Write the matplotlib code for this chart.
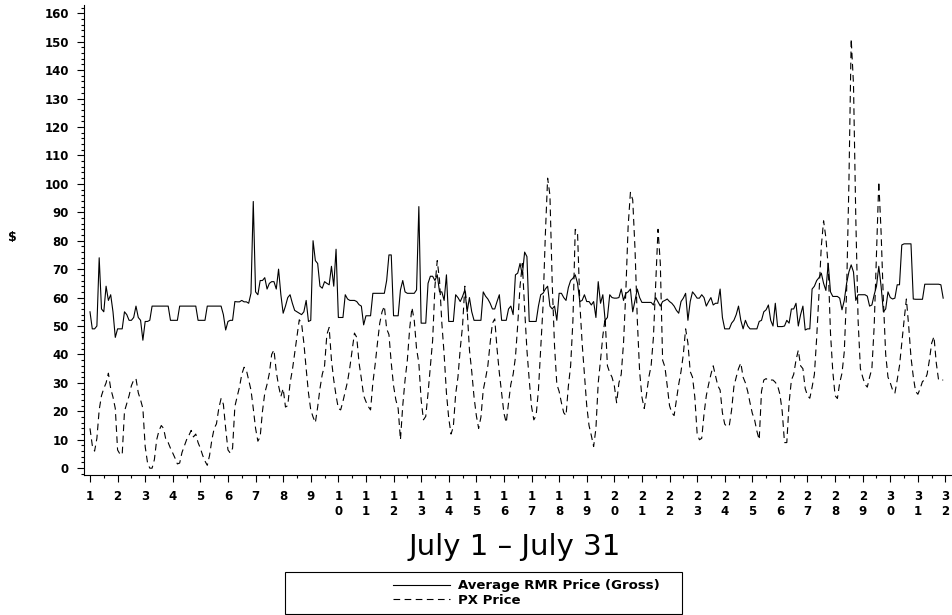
import numpy as np
import matplotlib
matplotlib.use('Agg')
import matplotlib.pyplot as plt
from matplotlib.ticker import MultipleLocator
from matplotlib.patches import Rectangle
from matplotlib.lines import Line2D

# hourly prices sampled every 2 hours, 12 values per day, July 1 - July 31
rmr_price = [
    55, 49, 49, 50, 74, 56, 55, 64, 59, 61, 55, 46,          # 1
    49, 49, 49, 55, 54, 52, 52, 53, 57, 53, 52, 45,          # 2
    51.6, 51.6, 52, 57, 57, 57, 57, 57, 57, 57, 57, 52,      # 3
    52, 52, 52, 57, 57, 57, 57, 57, 57, 57, 57, 52,          # 4
    52, 52, 52, 57, 57, 57, 57, 57, 57, 57, 54, 48.6,        # 5
    51.6, 52, 52, 58.6, 58.5, 58.5, 59, 58.5, 58.5, 58, 61.5, 93.8,  # 6
    62, 61, 66, 66, 67, 63, 65, 65.6, 65.6, 63, 70, 61,      # 7
    54.5, 57, 60, 61, 58, 55.5, 55, 54.5, 54, 55, 59, 51.6,  # 8
    52, 80, 73, 72, 64, 63.3, 65.6, 65, 64.5, 71, 64, 77,    # 9
    53, 53, 53, 61, 59.5, 59, 59, 59, 58.6, 57.5, 57, 50.4,  # 10
    53.6, 53.6, 53.6, 61.5, 61.5, 61.5, 61.5, 61.5, 61.5, 66, 75, 75,  # 11
    53.6, 53.6, 53.6, 62.7, 66, 62, 61.5, 61.5, 61.5, 61.5, 62.7, 92,  # 12
    51, 51, 51, 65, 67.5, 67.5, 66, 68, 62, 62, 59, 68,      # 13
    51.6, 51.6, 51.6, 61, 60, 58.6, 60.4, 62.7, 55, 60, 55, 52,  # 14
    52, 52, 52, 62, 60.5, 59.5, 58, 56, 56, 58.6, 61, 52,    # 15
    52, 52, 56, 57, 54, 68, 68.6, 72, 68, 76, 74.4, 51.6,    # 16
    51.6, 51.6, 51.6, 57, 61, 61.5, 63, 64, 57, 56, 57, 52,  # 17
    61.5, 61.5, 60, 59, 63.5, 66, 66.8, 68, 65, 58.6, 59, 61,  # 18
    58.6, 58.6, 57.4, 58.6, 53, 65.6, 58, 61, 52, 53, 61, 60,  # 19
    59.8, 59.8, 60, 63, 59, 61.5, 62, 63, 55, 59, 63, 60,    # 20
    58.3, 58.3, 58.3, 58.3, 58.3, 57.4, 60, 58.5, 57, 58.6, 59, 59.5,  # 21
    58.6, 58, 57, 55.5, 54.5, 58.6, 59.8, 61.5, 52, 58.6, 62, 61,  # 22
    59.8, 59.8, 61, 60, 57, 58.6, 60, 57.4, 58, 58, 63, 53,  # 23
    49, 49, 49, 51, 52, 54, 57, 52, 49, 52, 50, 49,          # 24
    49, 49, 49, 51.6, 52, 55, 55.7, 57.4, 52, 50, 58, 49.8,  # 25
    49.8, 49.8, 50, 52, 51, 56, 56, 58, 50, 54, 57, 48.6,    # 26
    49, 49, 63, 64, 66, 67, 68.6, 65, 62.5, 72, 62, 60.4,    # 27
    60.4, 60.4, 59.8, 55.7, 59, 65, 69, 71.5, 69, 59, 61, 61,  # 28
    61, 61, 60.5, 57, 57.4, 61, 64, 71, 64, 55, 56, 62,      # 29
    60, 59.5, 59.8, 64.5, 64.5, 78.5, 78.9, 78.9, 78.9, 78.9, 59.5, 59.4,  # 30
    59.4, 59.4, 59.4, 64.7, 64.7, 64.7, 64.7, 64.7, 64.7, 64.7, 64.5, 59.8,  # 31
]

px_price = [
    14, 8, 6, 10.5, 20.5, 25.5, 28, 30, 33.4, 28, 25, 21,     # 1
    6.4, 5, 4.7, 20, 22.8, 25.5, 29, 31, 31.5, 26.5, 24, 21,  # 2
    7.6, 2, 0, 0, 3, 10, 13.2, 15, 14, 10, 9, 7,              # 3
    5.3, 3.5, 1.5, 1.8, 5.5, 7.8, 10, 11.5, 13.3, 11, 12, 9,  # 4
    7, 4.5, 2.5, 1, 4.5, 10, 14, 15.6, 21, 24.5, 22.5, 14,    # 5
    6.4, 5.3, 7, 21.7, 25.2, 28.5, 33, 35.5, 34.5, 31, 27.5, 21,  # 6
    14, 9.5, 11, 20, 26.4, 29.5, 33.4, 40, 41.6, 34, 29, 25.2,  # 7
    28, 21.5, 22, 30, 34.5, 40.4, 46.5, 52.2, 51, 44, 35, 26.5,  # 8
    20.5, 18, 16, 21.5, 28, 33, 36, 47, 49.5, 38, 31, 25.5,   # 9
    21, 20.5, 23.5, 27, 30.5, 35.5, 41.5, 47.5, 46, 37, 31.5, 25.5,  # 10
    23.4, 21.7, 20.5, 30, 36.5, 44, 51, 55, 57, 49, 47, 37,   # 11
    29, 24, 21, 10, 22, 31, 38, 49, 56.5, 52, 42, 37,         # 12
    24, 17, 18.2, 26.4, 35.6, 45, 64, 73, 66, 51, 40, 26.4,   # 13
    17.5, 12, 14.6, 26, 32, 42, 50, 64, 56, 41.6, 34, 25,     # 14
    18.5, 14, 18, 27.5, 31.5, 36, 44, 51, 52.5, 42, 33.5, 26.4,  # 15
    19.3, 16, 23, 29.5, 33, 39, 50.5, 64, 72, 56, 41.5, 31,   # 16
    21.7, 17, 18.5, 27.5, 42, 57, 82, 102, 96, 65, 43, 29.5,  # 17
    27, 23, 19.5, 18.5, 28.7, 36, 52, 84, 83, 58, 44, 33,     # 18
    22, 15, 11.5, 7.6, 14, 30, 38, 46.5, 52.8, 36, 33.6, 32,  # 19
    29, 23, 30, 33, 44, 62, 85, 97, 94.4, 77, 52, 34,         # 20
    25, 21, 26, 32, 36, 46, 65, 84, 72, 38, 35.6, 29,         # 21
    22, 19.5, 18.5, 24, 29.5, 34, 40, 49, 44, 34, 32, 25,     # 22
    12.3, 10, 10.5, 19, 25.5, 29.5, 33, 36, 32.5, 29, 27.5, 19.5,  # 23
    15.5, 14.6, 15, 20.5, 28.7, 32, 35, 37, 32, 30, 27, 23,   # 24
    19.3, 17, 13, 10, 27, 31, 31.5, 30.8, 31, 31, 30.2, 29,   # 25
    26, 20, 9, 9, 23, 31, 33, 38, 41.5, 36, 35, 28,           # 26
    25.5, 24.6, 28.5, 33, 46, 61.5, 78, 87, 81, 71, 47.5, 34,  # 27
    25.5, 24.5, 30, 33.4, 41, 62, 100, 151, 135, 88, 52, 35,  # 28
    32, 29.5, 28.5, 32, 35, 50, 76, 100.8, 83, 59, 40, 32,    # 29
    30, 27.5, 26.4, 31, 36, 44, 52, 59.5, 50, 39, 32.2, 27,   # 30
    26, 28, 30.5, 31, 33, 38, 44, 46.3, 37, 31, 31, 31,       # 31
]

days = list(range(1, 33))
series_labels = ['Average RMR Price (Gross)', 'PX Price']

x = 1 + np.arange(len(rmr_price)) / 12.0

fig = plt.figure(figsize=(9.52, 6.15), dpi=100)
ax = fig.add_axes([84/952, 1 - 475/615, (951 - 84)/952, (475 - 5)/615])

ax.plot(x, rmr_price, color='black', lw=0.8)
ax.plot(x, px_price, color='black', lw=0.8, dashes=(6, 4))

ax.set_xlim(0.783, 32.2)
ax.set_ylim(-2.4, 162.9)
ax.spines['top'].set_visible(False)
ax.spines['right'].set_visible(False)

ax.set_xticks(days)
ax.set_xticklabels(['\n'.join(str(d)) for d in days], fontsize=8.5,
                   fontweight='bold', linespacing=1.15, va='top')
ax.xaxis.set_minor_locator(MultipleLocator(0.5))
ax.set_yticks(np.arange(0, 161, 10))
ax.set_yticklabels([str(v) for v in range(0, 161, 10)], fontsize=8.5, fontweight='bold')
ax.yaxis.set_minor_locator(MultipleLocator(2))
ax.tick_params(which='major', direction='out', length=5, width=0.8, pad=6)
ax.tick_params(which='minor', direction='out', length=2.5, width=0.8)

fig.text(12/952, 1 - 238/615, r'\$', fontsize=9, fontweight='bold', ha='center', va='center')
fig.text(515/952, 1 - 547/615, 'July 1 \u2013 July 31', fontsize=21, ha='center', va='center')

# legend box
fig.patches.append(Rectangle((285/952, 1 - 614/615), (682 - 285)/952, (614 - 572)/615,
                             transform=fig.transFigure, fill=False, lw=0.8, ec='black'))
handles = [Line2D([], [], color='black', lw=0.8),
           Line2D([], [], color='black', lw=0.8, dashes=(6, 4))]
fig.legend(handles, series_labels, loc='center left', bbox_to_anchor=(393/952, 1 - 593/615),
           frameon=False, prop={'size': 9.5, 'weight': 'bold'}, handlelength=4.3,
           handletextpad=0.6, labelspacing=0.1, borderpad=0, borderaxespad=0)

fig.savefig('out.png', dpi=100)
